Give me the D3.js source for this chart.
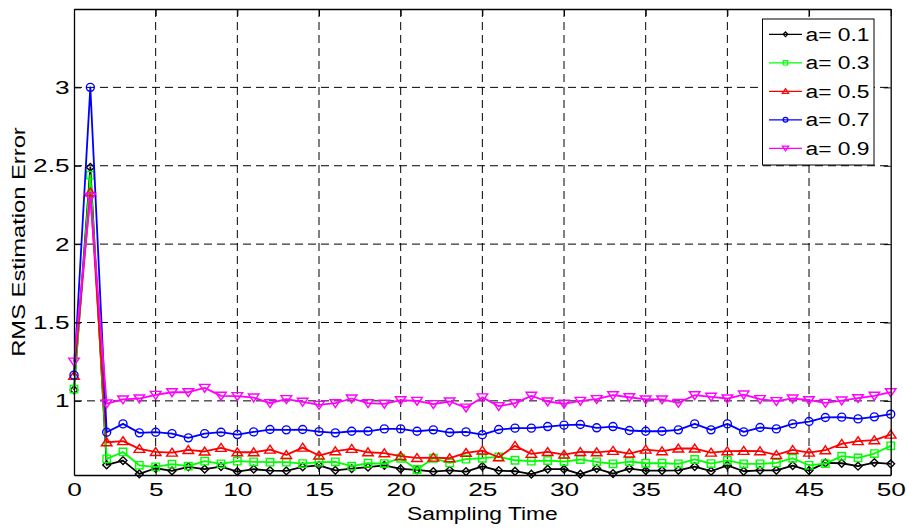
<!DOCTYPE html>
<html>
<head>
<meta charset="utf-8">
<script src="https://cdn.jsdelivr.net/npm/d3@7"></script>
<style>
    body { margin: 0; background: #fff; }
    svg { display: block; font-family: 'Liberation Sans', Arial, sans-serif; }
    .tick text { font-size: 19px; fill: #000; }
    .grid line { stroke: #000; stroke-width: 1; stroke-dasharray: 8,5; }
    .axis-title { font-size: 19px; fill: #000; }
    .legend text { font-size: 19px; fill: #000; }
</style>
</head>
<body>
<svg width="907" height="531"></svg>
<script>
// sampling time 0..50
const samplingTime = d3.range(0, 51);

const xTicks = [0, 5, 10, 15, 20, 25, 30, 35, 40, 45, 50];
const yTicks = [1, 1.5, 2, 2.5, 3];

const seriesNames = ['a= 0.1', 'a= 0.3', 'a= 0.5', 'a= 0.7', 'a= 0.9'];

const rmsA01 = [1.07, 2.49, 0.591, 0.619, 0.534, 0.570, 0.553, 0.579, 0.564, 0.581, 0.549,
    0.564, 0.555, 0.553, 0.579, 0.589, 0.557, 0.568, 0.577, 0.589, 0.566, 0.560, 0.549, 0.557,
    0.549, 0.582, 0.555, 0.551, 0.532, 0.564, 0.564, 0.532, 0.568, 0.536, 0.568, 0.555, 0.555,
    0.557, 0.581, 0.551, 0.589, 0.551, 0.557, 0.557, 0.587, 0.555, 0.604, 0.602, 0.583, 0.606, 0.598];

const rmsA03 = [1.075, 2.44, 0.630, 0.674, 0.589, 0.579, 0.596, 0.583, 0.615, 0.598, 0.615,
    0.611, 0.609, 0.609, 0.600, 0.609, 0.611, 0.583, 0.602, 0.600, 0.634, 0.562, 0.634, 0.604,
    0.628, 0.634, 0.643, 0.621, 0.615, 0.619, 0.613, 0.626, 0.611, 0.598, 0.613, 0.602, 0.602,
    0.598, 0.626, 0.600, 0.621, 0.598, 0.598, 0.604, 0.634, 0.589, 0.600, 0.647, 0.636, 0.664, 0.713];

const rmsA05 = [1.16, 2.33, 0.736, 0.743, 0.694, 0.674, 0.670, 0.687, 0.677, 0.700, 0.672,
    0.672, 0.689, 0.655, 0.702, 0.651, 0.679, 0.694, 0.672, 0.666, 0.647, 0.636, 0.638, 0.634,
    0.668, 0.683, 0.640, 0.713, 0.662, 0.674, 0.657, 0.674, 0.672, 0.681, 0.664, 0.689, 0.679,
    0.696, 0.696, 0.670, 0.679, 0.681, 0.679, 0.655, 0.687, 0.670, 0.685, 0.726, 0.743, 0.749, 0.785];

const rmsA07 = [1.164, 3.0, 0.800, 0.853, 0.796, 0.800, 0.791, 0.764, 0.791, 0.800, 0.785,
    0.802, 0.817, 0.815, 0.817, 0.804, 0.796, 0.806, 0.806, 0.821, 0.821, 0.806, 0.815, 0.798,
    0.802, 0.784, 0.817, 0.826, 0.826, 0.836, 0.845, 0.849, 0.828, 0.836, 0.811, 0.806, 0.806,
    0.815, 0.853, 0.815, 0.853, 0.802, 0.830, 0.821, 0.853, 0.868, 0.894, 0.896, 0.885, 0.898, 0.915];

const rmsA09 = [1.25, 2.30, 0.983, 1.009, 1.015, 1.038, 1.055, 1.055, 1.083, 1.032, 1.030,
    1.021, 0.985, 1.011, 0.994, 0.974, 0.985, 1.015, 0.985, 0.981, 1.004, 1.000, 0.979, 0.996,
    0.957, 1.022, 0.966, 0.985, 1.032, 0.996, 0.981, 1.000, 1.011, 1.036, 1.023, 1.009, 1.009,
    0.987, 1.036, 1.026, 1.015, 1.040, 1.011, 0.998, 1.015, 1.004, 0.987, 1.002, 1.017, 1.032, 1.055];

(function (d3) {
    'use strict';

    const svg = d3.select('svg');

    const plot = {left: 74, right: 890.7, top: 9, bottom: 475};
    // the figure's font is wider than Arial at the same height
    const stretch = 1.2;
    const tickStretch = 1.38;

    const x = d3.scaleLinear().domain([0, 50]).range([plot.left, plot.right]);
    const y = d3.scaleLinear().domain([0.527, 3.5]).range([plot.bottom, plot.top]);

    // matlab style marker shapes (r = half size)
    const diamond = {draw(ctx, r) { ctx.moveTo(0, -r); ctx.lineTo(r, 0); ctx.lineTo(0, r); ctx.lineTo(-r, 0); ctx.closePath(); }};
    const square = {draw(ctx, r) { ctx.rect(-r, -r, 2 * r, 2 * r); }};
    const triUp = {draw(ctx, r) { ctx.moveTo(0, -r); ctx.lineTo(r * 1.2, r * 0.8); ctx.lineTo(-r * 1.2, r * 0.8); ctx.closePath(); }};
    const circle = {draw(ctx, r) { ctx.moveTo(r, 0); ctx.arc(0, 0, r, 0, 2 * Math.PI); }};
    const triDown = {draw(ctx, r) { ctx.moveTo(0, r); ctx.lineTo(r * 1.2, -r * 0.8); ctx.lineTo(-r * 1.2, -r * 0.8); ctx.closePath(); }};

    const series = [
        {name: seriesNames[0], values: rmsA01, color: '#000000', shape: diamond, size: 3.9},
        {name: seriesNames[1], values: rmsA03, color: '#00ff00', shape: square, size: 3.7},
        {name: seriesNames[2], values: rmsA05, color: '#ff0000', shape: triUp, size: 4.4},
        {name: seriesNames[3], values: rmsA07, color: '#0000ff', shape: circle, size: 4},
        {name: seriesNames[4], values: rmsA09, color: '#ff00ff', shape: triDown, size: 4.4}
    ];

    svg.append('rect')
        .attr('width', 907).attr('height', 531).attr('fill', '#fff');

    // grid
    const grid = svg.append('g').attr('class', 'grid');
    grid.selectAll('.gx').data(xTicks.filter(d => d > 0 && d < 50))
        .enter().append('line')
        .attr('x1', d => x(d)).attr('x2', d => x(d))
        .attr('y1', plot.top).attr('y2', plot.bottom);
    grid.selectAll('.gy').data(yTicks)
        .enter().append('line')
        .attr('x1', plot.left).attr('x2', plot.right)
        .attr('y1', d => y(d)).attr('y2', d => y(d));

    // series
    const line = d3.line().x((d, i) => x(samplingTime[i])).y(d => y(d));

    series.forEach(s => {
        const g = svg.append('g');
        g.append('path')
            .attr('d', line(s.values))
            .attr('fill', 'none')
            .attr('stroke', s.color)
            .attr('stroke-width', 1.8)
            .attr('stroke-linejoin', 'round');
        g.selectAll('path.marker').data(s.values)
            .enter().append('path')
            .attr('class', 'marker')
            .attr('transform', (d, i) => `translate(${x(samplingTime[i])},${y(d)})`)
            .attr('d', d3.symbol(s.shape, s.size))
            .attr('fill', 'none')
            .attr('stroke', s.color)
            .attr('stroke-width', 1.4);
    });

    // axes, ticks inward
    const xAxisG = svg.append('g')
        .attr('transform', `translate(0,${plot.bottom})`)
        .call(d3.axisBottom(x).tickValues(xTicks).tickSize(-7).tickSizeOuter(0).tickPadding(8));
    svg.append('g')
        .attr('transform', `translate(0,${plot.top})`)
        .call(d3.axisTop(x).tickValues(xTicks).tickSize(-7).tickSizeOuter(0).tickFormat(''));
    const yAxisG = svg.append('g')
        .attr('transform', `translate(${plot.left},0)`)
        .call(d3.axisLeft(y).tickValues(yTicks).tickSize(-7).tickSizeOuter(0).tickFormat(d3.format('')));
    svg.append('g')
        .attr('transform', `translate(${plot.right},0)`)
        .call(d3.axisRight(y).tickValues(yTicks).tickSize(-7).tickSizeOuter(0).tickFormat(''));

    svg.selectAll('.domain').attr('stroke', '#000').attr('stroke-width', 1.3);
    svg.selectAll('.tick line').attr('stroke', '#000');
    svg.selectAll('.tick text').attr('font-family', null).attr('font-size', null);

    xAxisG.selectAll('.tick text')
        .attr('transform', `scale(${tickStretch},1)`);
    yAxisG.selectAll('.tick text')
        .attr('x', -4.5 / tickStretch)
        .attr('transform', `scale(${tickStretch},1)`);

    svg.append('text')
        .attr('class', 'axis-title')
        .attr('transform', `translate(${(plot.left + plot.right) / 2},520) scale(${stretch},1)`)
        .attr('text-anchor', 'middle')
        .text('Sampling Time');

    svg.append('text')
        .attr('class', 'axis-title')
        .attr('transform', `translate(25,${(plot.top + plot.bottom) / 2}) rotate(-90) scale(${stretch + 0.05},1)`)
        .attr('text-anchor', 'middle')
        .text('RMS Estimation Error');

    // legend
    const legend = svg.append('g')
        .attr('class', 'legend')
        .attr('transform', 'translate(762.5,19)');

    legend.append('rect')
        .attr('width', 111.5)
        .attr('height', 146)
        .attr('fill', '#fff')
        .attr('stroke', '#000')
        .attr('stroke-width', 1);

    const rows = legend.selectAll('g.row').data(series)
        .enter().append('g')
        .attr('class', 'row')
        .attr('transform', (d, i) => `translate(0,${15.3 + i * 28.5})`);

    rows.append('line')
        .attr('x1', 6.5).attr('x2', 39.5)
        .attr('stroke', d => d.color)
        .attr('stroke-width', 1.2);

    rows.append('path')
        .attr('transform', 'translate(23,0)')
        .attr('d', d => d3.symbol(d.shape, d.size * 0.6)())
        .attr('fill', 'none')
        .attr('stroke', d => d.color)
        .attr('stroke-width', 1.2);

    rows.append('text')
        .attr('transform', `translate(43,0) scale(${stretch},1)`)
        .attr('dy', '0.35em')
        .text(d => d.name);

}(d3));
</script>
</body>
</html>
